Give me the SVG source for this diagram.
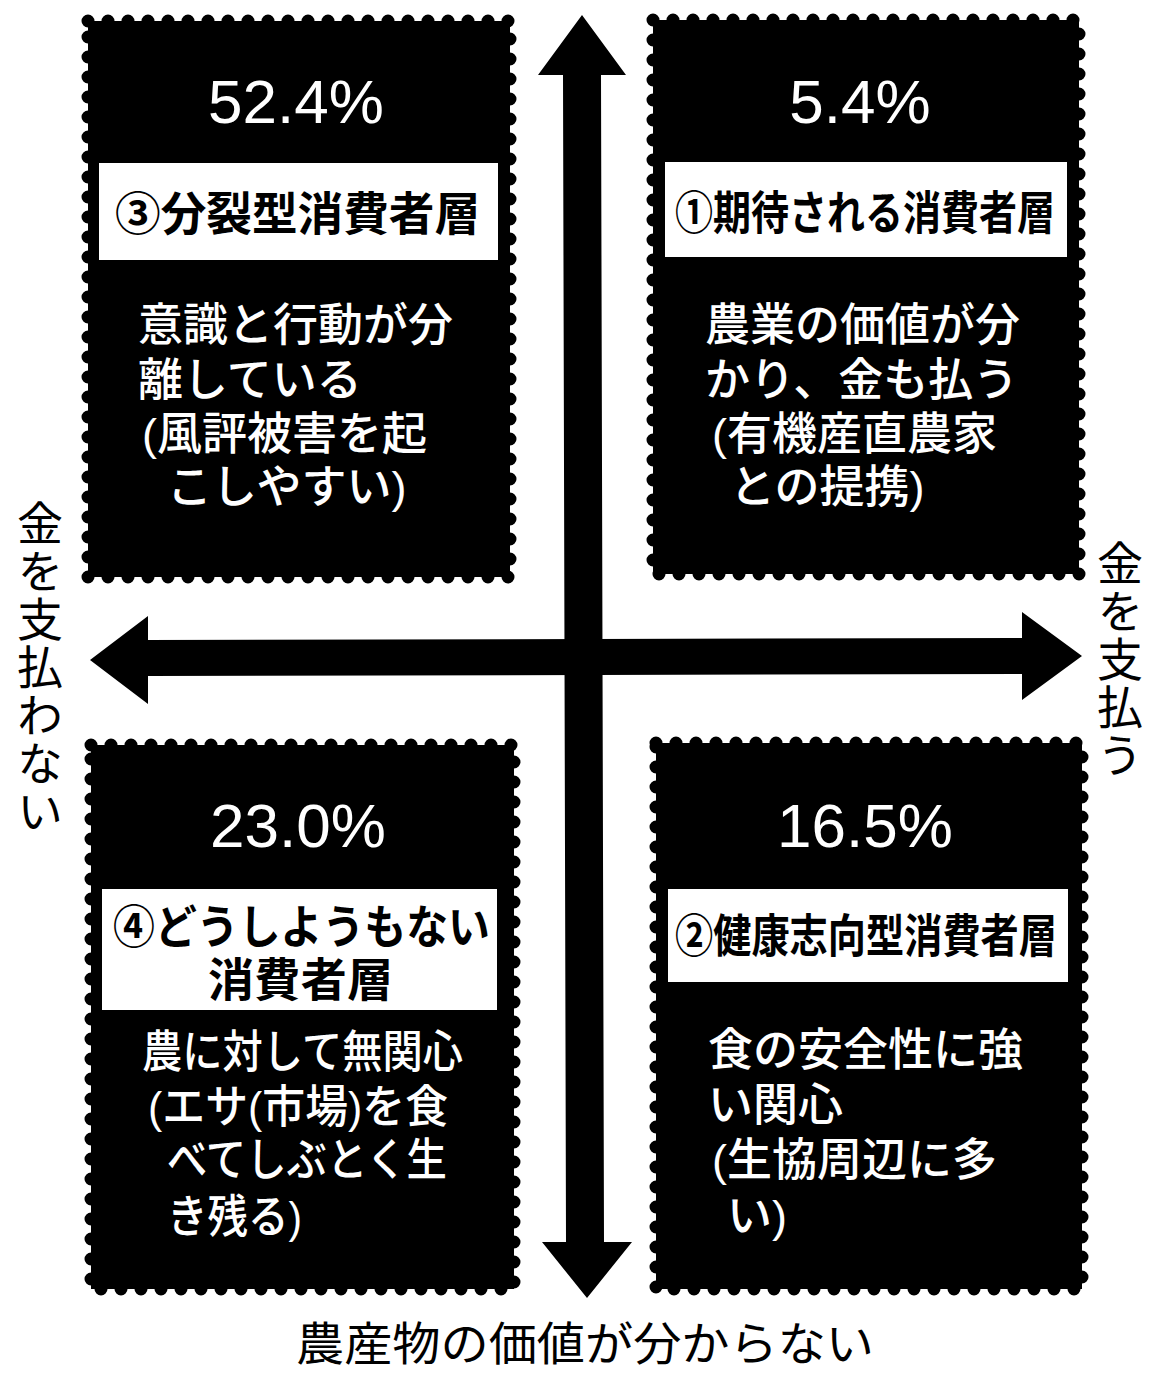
<svg xmlns="http://www.w3.org/2000/svg" width="1157" height="1373" viewBox="0 0 1157 1373">
<style>
.wave{fill:#000;stroke:#000;stroke-width:13;stroke-dasharray:0 20;stroke-linecap:round}
.lab{fill:#fff}
.pct{font-family:'Liberation Sans',Arial,sans-serif;font-size:62px;fill:#fff;text-anchor:middle}
.lt{font-family:'Liberation Sans','Noto Sans CJK JP',sans-serif;font-size:46px;font-weight:700;fill:#000}
.bd{font-family:'Liberation Sans','Noto Sans CJK JP',sans-serif;font-size:45px;font-weight:500;fill:#fff}
.ax{font-family:'Noto Sans CJK JP',sans-serif;font-size:46px;fill:#000}
.vt{writing-mode:vertical-rl;letter-spacing:2px}
.arr{fill:#000}
</style>
<rect width="1157" height="1373" fill="#fff"/>
<g id="connectors">
<polygon class="arr" points="90,660 148,616 148,640 1022,638 1022,612 1082,656 1022,700 1022,674 148,676 148,704"/>
<polygon class="arr" points="582,15 626,75 601,75 604,1242 632,1242 587,1298 542,1242 566,1242 563,75 538,75"/>
</g>
<g id="q3">
<rect class="wave" x="88" y="21" width="422" height="556"/>
<text class="pct" x="296" y="123">52.4%</text>
<rect class="lab" x="99" y="163" width="399" height="97"/>
<text class="lt" x="115" y="230" textLength="365" lengthAdjust="spacingAndGlyphs">③分裂型消費者層</text>
<text class="bd" x="138" y="341">意識と行動が分</text>
<text class="bd" x="138" y="396">離している</text>
<text class="bd" x="142" y="450">(風評被害を起</text>
<text class="bd" x="167" y="503">こしやすい)</text>
</g>
<g id="q1">
<rect class="wave" x="653" y="20" width="426" height="554"/>
<text class="pct" x="860" y="123">5.4%</text>
<rect class="lab" x="665" y="162" width="402" height="95"/>
<text class="lt" x="675" y="229" textLength="380" lengthAdjust="spacingAndGlyphs">①期待される消費者層</text>
<text class="bd" x="705" y="341">農業の価値が分</text>
<text class="bd" x="705" y="396">かり、金も払う</text>
<text class="bd" x="712" y="450">(有機産直農家</text>
<text class="bd" x="730" y="503">との提携)</text>
</g>
<g id="q4">
<rect class="wave" x="91" y="745" width="423" height="544"/>
<text class="pct" x="298" y="847">23.0%</text>
<rect class="lab" x="102" y="889" width="395" height="121"/>
<text class="lt" x="113" y="943" textLength="377" lengthAdjust="spacingAndGlyphs">④どうしようもない</text>
<text class="lt" x="208" y="996" textLength="185" lengthAdjust="spacing">消費者層</text>
<text class="bd" x="142" y="1068" textLength="321" lengthAdjust="spacingAndGlyphs">農に対して無関心</text>
<text class="bd" x="148" y="1123" textLength="300" lengthAdjust="spacingAndGlyphs">(エサ(市場)を食</text>
<text class="bd" x="167" y="1176" textLength="280" lengthAdjust="spacingAndGlyphs">べてしぶとく生</text>
<text class="bd" x="167" y="1233" textLength="135" lengthAdjust="spacingAndGlyphs">き残る)</text>
</g>
<g id="q2">
<rect class="wave" x="656" y="743" width="426" height="546"/>
<text class="pct" x="865" y="847">16.5%</text>
<rect class="lab" x="668" y="889" width="400" height="93"/>
<text class="lt" x="675" y="952" textLength="382" lengthAdjust="spacingAndGlyphs">②健康志向型消費者層</text>
<text class="bd" x="708" y="1066">食の安全性に強</text>
<text class="bd" x="708" y="1121">い関心</text>
<text class="bd" x="712" y="1176">(生協周辺に多</text>
<text class="bd" x="727" y="1232">い)</text>
</g>
<g id="label-left">
<text class="ax vt" x="40" y="500">金を支払わない</text>
</g>
<g id="label-right">
<text class="ax vt" x="1120" y="540">金を支払う</text>
</g>
<g id="label-bottom">
<text class="ax" x="296" y="1360" textLength="578" lengthAdjust="spacingAndGlyphs">農産物の価値が分からない</text>
</g>
</svg>
